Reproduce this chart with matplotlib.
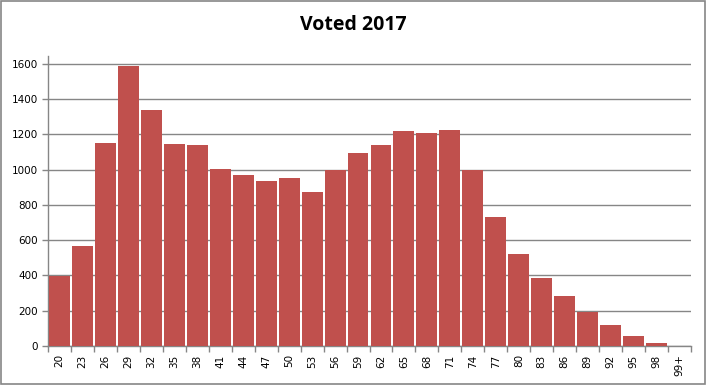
import matplotlib.pyplot as plt
from matplotlib.patches import Rectangle

ages = ['20', '23', '26', '29', '32', '35', '38', '41', '44', '47', '50', '53', '56', '59',
        '62', '65', '68', '71', '74', '77', '80', '83', '86', '89', '92', '95', '98', '99+']
voted = [397, 567, 1152, 1590, 1339, 1146, 1140, 1004, 970, 936, 953, 874, 999, 1095,
         1140, 1220, 1208, 1225, 999, 732, 522, 386, 284, 193, 119, 57, 17, 0]
yticks = [0, 200, 400, 600, 800, 1000, 1200, 1400, 1600]

grey = '#868686'

fig = plt.figure(figsize=(7.06, 3.85), dpi=100)
ax = fig.add_axes([48 / 706, 1 - 346 / 385, 643 / 706, 290 / 385])

x = range(len(ages))
ax.bar(x, voted, width=0.91, color='#C0504D', zorder=3)

ax.set_xlim(-0.5, len(ages) - 0.5)
ax.set_ylim(0, 1645)
ax.set_yticks(yticks)
ax.set_yticklabels([str(v) for v in yticks], fontsize=7.5, family='DejaVu Sans')
ax.set_xticks(list(x))
ax.set_xticklabels(ages, rotation=90, fontsize=7.5, family='DejaVu Sans')
ax.set_xticks([i - 0.5 for i in range(len(ages) + 1)], minor=True)
ax.tick_params(axis='x', which='major', length=0, pad=6)
ax.tick_params(axis='x', which='minor', length=4, color=grey, width=1)
ax.tick_params(axis='y', length=4, color=grey, width=1, pad=3)

ax.grid(axis='y', color=grey, linewidth=1, zorder=0)
for s in ['top', 'right']:
    ax.spines[s].set_visible(False)
for s in ['left', 'bottom']:
    ax.spines[s].set_color(grey)
    ax.spines[s].set_linewidth(1)

fig.text(0.5, 1 - 25 / 385, 'Voted 2017', ha='center', va='center',
         fontsize=14, fontweight='bold', family='Open Sans')

fig.patches.append(Rectangle((0.001, 0.002), 0.997, 0.995, transform=fig.transFigure,
                             fill=False, edgecolor=grey, linewidth=1.2))

fig.savefig('out.png', dpi=100)
